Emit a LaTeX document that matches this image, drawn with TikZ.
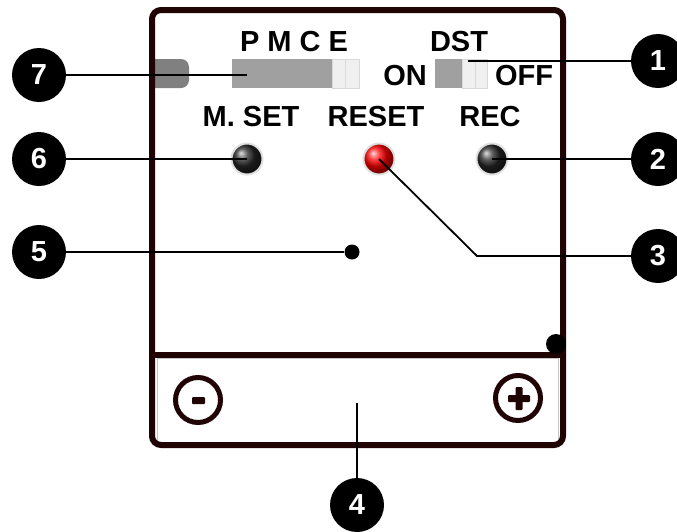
\documentclass[tikz,border=0pt]{standalone}
\usepackage{fontspec}
\setmainfont{Liberation Sans}

\definecolor{frame}{RGB}{32,4,4}
\definecolor{slidegray}{RGB}{160,160,160}
\definecolor{tabgray}{RGB}{128,128,128}
\definecolor{seglight}{RGB}{240,240,240}

\begin{document}
\begin{tikzpicture}[x=1pt,y=-1pt,font=\bfseries\fontsize{29}{31}\selectfont,
  num/.style={circle,fill=black,text=white,minimum size=54pt,inner sep=0pt},
  lead/.style={line width=1.8pt},
  btn/.style={circle,minimum size=31pt,inner sep=0pt,draw=gray!25,line width=2pt},
  seg/.style={fill=seglight,draw=gray!30,line width=0.6pt},
  dot/.style={circle,fill=black,inner sep=0pt}]
  \useasboundingbox (0,0) rectangle (677,531);
  % slide switches
  \begin{scope}
    \clip (155,0) rectangle (300,100);
    \fill[tabgray,rounded corners=8pt] (140,59) rectangle (189,88);
  \end{scope}
  \fill[slidegray] (232,59) rectangle (332,88);
  \draw[seg] (332,59) rectangle (345,88); \draw[seg] (345,59) rectangle (359,88);
  \fill[slidegray] (435,59) rectangle (462,88);
  \draw[seg] (462,59) rectangle (475,88); \draw[seg] (475,59) rectangle (487,88);
  % case
  \draw[gray!45,line width=0.8pt] (157,358) rectangle (558,442);
  \draw[frame,line width=6pt,rounded corners=9pt] (152,10) rectangle (563,445);
  \draw[frame,line width=6pt] (152,355) -- (563,355);
  \fill[black] (556,344) circle[radius=10];
  % keys
  \draw[frame,line width=5pt] (198,400) circle[radius=22.5];
  \fill[frame,rounded corners=1pt] (192,397) rectangle (205,404);
  \draw[frame,line width=5pt] (518,398) circle[radius=22.5];
  \fill[frame,rounded corners=1pt] (508,395) rectangle (530,402);
  \fill[frame,rounded corners=1pt] (515.5,387) rectangle (522.5,410);
  % labels
  \node at (294,42){P M C E};
  \node at (459,42){DST};
  \node at (405,76){ON};
  \node at (524,76){OFF};
  \node at (251,117){M. SET};
  \node at (376,117){RESET};
  \node at (490,117){REC};
  % buttons
  \node[btn,ball color=black!85] (mset) at (247,159){};
  \node[btn,ball color=red] (reset) at (379,159){};
  \node[btn,ball color=black!85] (rec) at (492,159){};
  \node[dot,minimum size=15pt] (dot5) at (352,252){};
  % callouts
  \node[num] (c1) at (658,61){1};
  \node[num] (c2) at (658,159){2};
  \node[num] (c3) at (658,256){3};
  \node[num] (c4) at (357,505){4};
  \node[num] (c5) at (39,252){5};
  \node[num] (c6) at (39,159){6};
  \node[num] (c7) at (39,75){7};
  \coordinate (pmceend) at (247,75);
  \coordinate (dstend) at (468,61);
  \coordinate (bend3) at (477,256);
  \coordinate (keysend) at (357,403);
  \draw[lead] (dstend) -- (c1);
  \draw[lead] (rec.center) -- (c2);
  \draw[lead] (reset.center) -- (bend3) -- (c3);
  \draw[lead] (keysend) -- (c4);
  \draw[lead] (c5) -- (dot5);
  \draw[lead] (c6) -- (mset.center);
  \draw[lead] (c7) -- (pmceend);
\end{tikzpicture}
\end{document}
